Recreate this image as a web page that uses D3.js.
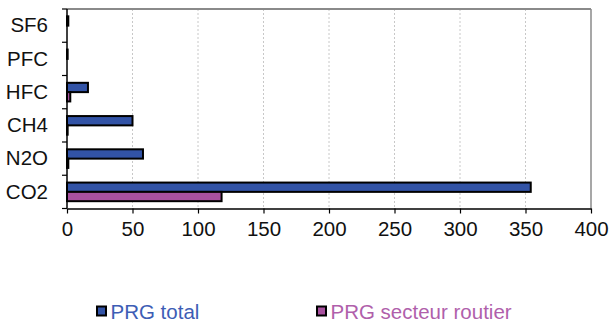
<!DOCTYPE html>
<html>
<head>
<meta charset="utf-8">
<script src="https://cdn.jsdelivr.net/npm/d3@7/dist/d3.min.js"></script>
<style>
  html, body { margin: 0; padding: 0; background: #fff; }
  svg { display: block; font-family: "Liberation Sans", Arial, sans-serif; }
</style>
</head>
<body>
<svg id="chart" width="610" height="322"></svg>
<script>
// Gases, listed top to bottom as drawn
const gases = ["SF6", "PFC", "HFC", "CH4", "N2O", "CO2"];
// Global warming potential, all sectors
const prgTotal = [1, 0.5, 16, 50, 58, 354];
// Global warming potential, road transport sector
const prgRoutier = [0, 0, 2.5, 0.5, 1, 118];
const seriesNames = ["PRG total", "PRG secteur routier"];
const seriesFill = ["#3253a6", "#a8519f"];
const seriesText = ["#3d5db5", "#b05fab"];
const xTicks = [0, 50, 100, 150, 200, 250, 300, 350, 400];

const svg = d3.select("#chart");
const plotLeft = 67, plotRight = 591, plotTop = 9, plotBottom = 208.5;

const x = d3.scaleLinear().domain([0, 400]).range([plotLeft, plotRight]);
const y = d3.scaleBand().domain(gases).range([plotTop, plotBottom]).paddingInner(0.44).paddingOuter(0.22);
const ySeries = d3.scaleBand().domain(seriesNames).range([0, y.bandwidth()]);

// dotted vertical gridlines
svg.append("g").selectAll("line")
  .data(xTicks.filter(d => d > 0 && d < 400))
  .join("line")
  .attr("x1", d => x(d)).attr("x2", d => x(d))
  .attr("y1", plotTop).attr("y2", plotBottom)
  .attr("stroke", "#c8c8c8").attr("stroke-width", 1)
  .attr("stroke-dasharray", "2,2");

// plot frame (top and right)
svg.append("line").attr("x1", plotLeft).attr("x2", plotRight).attr("y1", plotTop).attr("y2", plotTop)
  .attr("stroke", "#8a8a8a").attr("stroke-width", 2);
svg.append("line").attr("x1", plotRight).attr("x2", plotRight).attr("y1", plotTop).attr("y2", plotBottom)
  .attr("stroke", "#8a8a8a").attr("stroke-width", 1.5);

// bars
const rows = gases.map((g, i) => ({ gas: g, values: [prgTotal[i], prgRoutier[i]] }));
const groups = svg.append("g").selectAll("g")
  .data(rows).join("g")
  .attr("transform", d => `translate(0,${y(d.gas)})`);
groups.selectAll("rect")
  .data(d => d.values.map((v, k) => ({ v, k })).filter(e => e.v > 0))
  .join("rect")
  .attr("x", x(0))
  .attr("y", e => ySeries(seriesNames[e.k]))
  .attr("width", e => x(e.v) - x(0))
  .attr("height", ySeries.bandwidth())
  .attr("fill", e => seriesFill[e.k])
  .attr("stroke", "#000").attr("stroke-width", 2);

// x axis
const xAxis = svg.append("g")
  .attr("transform", `translate(0,${plotBottom})`)
  .call(d3.axisBottom(x).tickValues(xTicks).tickSize(5).tickPadding(8).tickSizeOuter(0));
xAxis.select(".domain").attr("stroke", "#000").attr("stroke-width", 1.5);
xAxis.selectAll(".tick line").attr("stroke", "#000").attr("stroke-width", 1.2);
xAxis.selectAll(".tick text").attr("font-size", 20.5).attr("fill", "#111")
  .attr("font-family", "Liberation Sans, Arial, sans-serif");

// y axis with ticks at category boundaries
const yAxis = svg.append("g").attr("transform", `translate(${plotLeft},0)`);
yAxis.append("line").attr("x1", 0).attr("x2", 0).attr("y1", plotTop).attr("y2", plotBottom)
  .attr("stroke", "#000").attr("stroke-width", 1.5);
const boundaries = d3.range(gases.length + 1).map(i => plotTop + i * (plotBottom - plotTop) / gases.length);
yAxis.selectAll(".bt").data(boundaries).join("line")
  .attr("x1", -5).attr("x2", 0).attr("y1", d => d).attr("y2", d => d)
  .attr("stroke", "#000").attr("stroke-width", 1.2);
yAxis.selectAll("text").data(gases).join("text")
  .attr("x", -19)
  .attr("y", g => y(g) + y.bandwidth() / 2 - 0.5)
  .attr("dy", "0.35em")
  .attr("text-anchor", "end")
  .attr("font-size", 20.5).attr("fill", "#111")
  .text(g => g);

// legend
const legendX = [97, 317];
const legend = svg.append("g").selectAll("g").data(seriesNames).join("g")
  .attr("transform", (d, i) => `translate(${legendX[i]},306.5)`);
legend.append("rect").attr("x", 0).attr("y", 0).attr("width", 9).attr("height", 9)
  .attr("fill", (d, i) => seriesFill[i]).attr("stroke", "#000").attr("stroke-width", 2);
legend.append("text").attr("x", 13.5).attr("y", 12.5)
  .attr("font-size", 20.5).attr("fill", (d, i) => seriesText[i])
  .text(d => d);
</script>
</body>
</html>
